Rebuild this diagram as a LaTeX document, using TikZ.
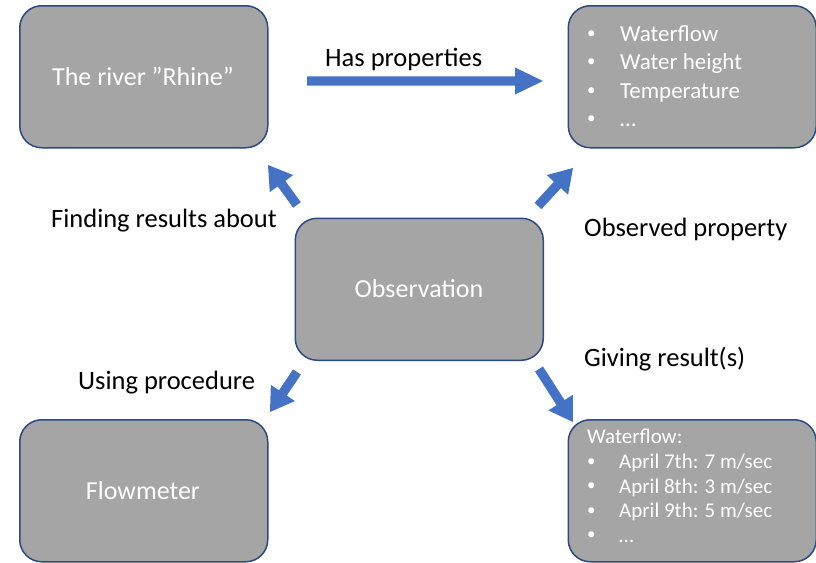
\documentclass[tikz,border=0pt]{standalone}
\usepackage{fontspec}
\setmainfont{Carlito}
\usetikzlibrary{calc}

\definecolor{boxfill}{HTML}{A5A5A5}
\definecolor{boxline}{HTML}{2B4A80}
\definecolor{arrowblue}{HTML}{4472C4}

% filled block arrow from #1 to #2 with head length #3, head half-width #4
\newcommand\blockarrow[4]{%
  \coordinate (#1-#2-h) at ($(#2)!#3!(#1)$);
  \fill[arrowblue]
    ($(#1)!4.7pt!90:(#2)$) -- ($(#1-#2-h)!4.7pt!90:(#2)$) --
    ($(#1-#2-h)!#4!90:(#2)$) -- (#2) --
    ($(#1-#2-h)!#4!-90:(#2)$) -- ($(#1-#2-h)!4.7pt!-90:(#2)$) --
    ($(#1)!4.7pt!-90:(#2)$) -- cycle;}

\begin{document}
\begin{tikzpicture}[x=1pt,y=-1pt,
  box/.style={draw=boxline, fill=boxfill, line width=1.5pt,
    rounded corners=22pt, minimum width=248pt, minimum height=142pt,
    inner sep=0pt, anchor=north west},
  title/.style={text=white, font=\fontsize{26}{30}\selectfont, anchor=base, inner sep=0pt},
  label/.style={text=black, font=\fontsize{26.5}{30}\selectfont, anchor=base west, inner sep=0pt},
  propitem/.style={text=white, font=\fontsize{23}{27}\selectfont, anchor=base west, inner sep=0pt},
  resitem/.style={text=white, font=\fontsize{21}{25}\selectfont, anchor=base west, inner sep=0pt},
  dot/.style={text=white, font=\fontsize{17}{20}\selectfont, anchor=base west, inner sep=0pt, yshift=2pt}]

\useasboundingbox (0,0) rectangle (816,562);

% boxes
\node[box] (rhine) at (19,5) {};
\node[box] (props) at (567.5,5) {};
\node[box] (obs) at (294.5,217.5) {};
\node[box] (flow) at (19,419) {};
\node[box] (res) at (567.5,419) {};

% box titles
\node[title] (rhinet) at (143,85) {The river ”Rhine”};
\node[title] (obst) at (419,297) {Observation};
\node[title] (flowt) at (143,499) {Flowmeter};

% property list
\node[dot] (pb1) at (587,40) {•};
\node[propitem] (p1) at (620,41) {Waterflow};
\node[dot] (pb2) at (587,68.5) {•};
\node[propitem] (p2) at (620,69.5) {Water height};
\node[dot] (pb3) at (587,97) {•};
\node[propitem] (p3) at (620,98) {Temperature};
\node[dot] (pb4) at (587,125.5) {•};
\node[propitem] (p4) at (620,126.5) {…};

% result list
\node[resitem] (r0) at (587,443.5) {Waterflow:};
\node[dot] (rb1) at (587,468) {•};
\node[resitem] (r1) at (619,468.5) {April 7th: 7 m/sec};
\node[dot] (rb2) at (587,492.5) {•};
\node[resitem] (r2) at (619,493) {April 8th: 3 m/sec};
\node[dot] (rb3) at (587,517) {•};
\node[resitem] (r3) at (619,517.5) {April 9th: 5 m/sec};
\node[dot] (rb4) at (587,541.5) {•};
\node[resitem] (r4) at (619,542) {…};

% relation labels
\node[label] (lhas) at (325,66) {Has properties};
\node[label] (lfind) at (51,227) {Finding results about};
\node[label] (lobs) at (584,236) {Observed property};
\node[label] (luse) at (78,389) {Using procedure};
\node[label] (lgive) at (584,366) {Giving result(s)};

% arrow end points
\coordinate (hasA) at (307,81);
\coordinate (hasB) at (543,81);
\coordinate (tlA) at (297,205);
\coordinate (tlB) at (268,165);
\coordinate (trA) at (538,206);
\coordinate (trB) at (573,168);
\coordinate (blA) at (297,372);
\coordinate (blB) at (270,412);
\coordinate (brA) at (539,369);
\coordinate (brB) at (573,422);

\blockarrow{hasA}{hasB}{28pt}{13.5pt}
\blockarrow{tlA}{tlB}{23pt}{14.5pt}
\blockarrow{trA}{trB}{23pt}{14.5pt}
\blockarrow{blA}{blB}{23pt}{14.5pt}
\blockarrow{brA}{brB}{23pt}{14.5pt}
\end{tikzpicture}
\end{document}
